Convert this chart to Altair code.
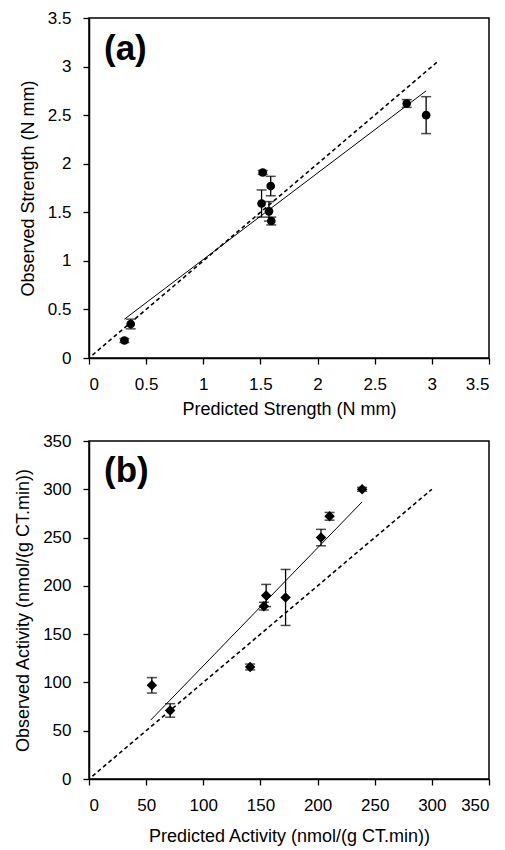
import altair as alt
import pandas as pd

# ---- Panel (a): strength ----
a_pred = [0.31, 0.365, 1.52, 1.59, 1.51, 1.575, 1.595, 2.78, 2.95]
a_obs = [0.18, 0.35, 1.91, 1.77, 1.59, 1.51, 1.41, 2.62, 2.50]
a_err = [0.02, 0.05, 0.02, 0.10, 0.14, 0.10, 0.04, 0.04, 0.19]
a_fit_x = [0.31, 2.95]
a_fit_y = [0.40, 2.75]
a_diag = [0.03, 3.06]
a_ticks = [0, 0.5, 1, 1.5, 2, 2.5, 3, 3.5]

# ---- Panel (b): activity ----
b_pred = [55, 71, 141, 153, 155, 172, 203, 210.5, 239]
b_obs = [97, 71, 116, 179, 190, 188, 250, 272, 300]
b_err = [8, 7, 3, 4, 11.5, 29, 8.5, 4, 2]
b_fit_x = [54, 239]
b_fit_y = [61, 287]
b_diag = [3, 300]
b_ticks = [0, 50, 100, 150, 200, 250, 300, 350]

FONT = "Liberation Sans"


def panel(pred, obs, err, fit_x, fit_y, diag, ticks, shape, size, label,
          xtitle, ytitle, xtitle_pad, label_y):
    pts = pd.DataFrame({"pred": pred, "obs": obs, "err": err})
    fit = pd.DataFrame({"pred": fit_x, "obs": fit_y})
    dg = pd.DataFrame({"pred": diag, "obs": diag})
    dom = [ticks[0], ticks[-1]]
    xs = alt.X("pred:Q", scale=alt.Scale(domain=dom, nice=False),
               axis=alt.Axis(values=ticks, format="~r", title=xtitle,
                             titlePadding=xtitle_pad))
    ys = alt.Y("obs:Q", scale=alt.Scale(domain=dom, nice=False),
               axis=alt.Axis(values=ticks, format="~r", title=ytitle))

    base = alt.Chart(pts).transform_calculate(
        lo="datum.obs - datum.err", hi="datum.obs + datum.err")
    bars = base.mark_rule(color="black", strokeWidth=1.3).encode(
        x=xs, y=alt.Y("lo:Q"), y2="hi:Q")
    cap_hi = base.mark_tick(orient="horizontal", size=10, thickness=1.5,
                            color="black").encode(x="pred:Q", y="hi:Q")
    cap_lo = base.mark_tick(orient="horizontal", size=10, thickness=1.5,
                            color="black").encode(x="pred:Q", y="lo:Q")
    marks = alt.Chart(pts).mark_point(shape=shape, filled=True, size=size,
                                      color="black", opacity=1).encode(x=xs, y=ys)
    fitl = alt.Chart(fit).mark_line(color="black", strokeWidth=1).encode(x=xs, y=ys)
    dgl = alt.Chart(dg).mark_line(color="black", strokeWidth=1.6,
                                  strokeDash=[4, 3]).encode(x=xs, y=ys)
    txt = alt.Chart(pd.DataFrame({"t": [label]})).mark_text(
        align="left", baseline="middle", fontSize=35, font=FONT,
        fontWeight="bold", color="black").encode(
        text="t:N", x=alt.value(15), y=alt.value(label_y))
    return alt.layer(dgl, fitl, bars, cap_hi, cap_lo, marks, txt).properties(
        width=400, height=340)


top = panel(a_pred, a_obs, a_err, a_fit_x, a_fit_y, a_diag, a_ticks,
            "circle", 75, "(a)", "Predicted Strength (N mm)",
            "Observed Strength (N mm)", 8, 31)
bottom = panel(b_pred, b_obs, b_err, b_fit_x, b_fit_y, b_diag, b_ticks,
               "diamond", 110, "(b)", "Predicted Activity (nmol/(g CT.min))",
               "Observed Activity  (nmol/(g CT.min))", 14, 30).properties(height=338)

chart = alt.vconcat(top, bottom, spacing=12).properties(
    padding={"left": 5, "top": 0, "right": 0, "bottom": 0},
    background="white"
).configure_view(stroke="black", strokeWidth=1.5).configure_axis(
    grid=False, domainColor="black", domainWidth=1.5, tickColor="black",
    tickWidth=1.3, tickSize=6, labelColor="black", labelFont=FONT,
    labelFontSize=17, labelPadding=12, titleFont=FONT, titleFontSize=18,
    titleFontWeight="normal", titleColor="black", titlePadding=10
)

chart.save("out.html", embed_options={"renderer": "svg", "actions": False})
